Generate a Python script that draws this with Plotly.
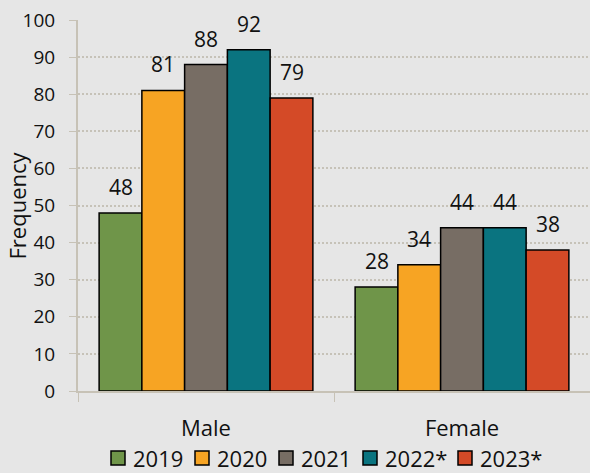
import plotly.graph_objects as go

categories = ["Male", "Female"]
years = ["2019", "2020", "2021", "2022*", "2023*"]
values = {
    "2019": [48, 28],
    "2020": [81, 34],
    "2021": [88, 44],
    "2022*": [92, 44],
    "2023*": [79, 38],
}
colors = ["#6f9549", "#f7a423", "#776d64", "#0a7480", "#d44a27"]

# layout constants (pixels)
L, R, T, B = 78, 0, 20, 82
W, H = 590, 473
pw = W - L - R
ph = H - T - B
BARGAP = 0.165
FONT = "Open Sans"
TXT = "#111111"
axis_col = "#c7c2b6"

fig = go.Figure()
nser = len(years)
bw = (1 - BARGAP) / nser
annotations = []
for j, (yr, c) in enumerate(zip(years, colors)):
    fig.add_trace(go.Bar(
        name=yr, x=categories, y=values[yr],
        marker=dict(color=c, line=dict(color="#000000", width=1.5)),
        showlegend=False,
    ))
    for i, v in enumerate(values[yr]):
        annotations.append(dict(
            x=i + (j - (nser - 1) / 2) * bw, y=v, xref="x", yref="y",
            text=str(v), showarrow=False, xanchor="center", yanchor="bottom",
            yshift=10, font=dict(size=21, color=TXT, family=FONT)))

# y-axis title
annotations.append(dict(text="Frequency", xref="paper", yref="paper",
                        x=-(L - 16) / pw, y=0.5, textangle=-90, showarrow=False,
                        xanchor="center", yanchor="middle",
                        font=dict(size=22, color=TXT, family=FONT)))

# custom legend (squares + labels) below the plot
shapes = []
leg_y = 458
x0 = 111
sq = 14
for yr, c in zip(years, colors):
    tw = sum(11 if ch == "*" else 12.25 for ch in yr)
    ycen = -(leg_y - (T + ph)) / ph
    half = (sq / 2) / ph
    shapes.append(dict(type="rect", xref="paper", yref="paper",
                       x0=(x0 - L) / pw, x1=(x0 + sq - L) / pw,
                       y0=ycen - half, y1=ycen + half,
                       fillcolor=c, line=dict(color="#000000", width=1.5)))
    annotations.append(dict(text=yr, xref="paper", yref="paper",
                            x=(x0 + 20 - L) / pw, y=ycen, showarrow=False,
                            xanchor="left", yanchor="middle",
                            font=dict(size=22, color=TXT, family=FONT)))
    x0 += 21 + tw + 14

fig.update_layout(
    width=W, height=H,
    margin=dict(l=L, r=R, t=T, b=B, autoexpand=False),
    paper_bgcolor="#e6e6e6", plot_bgcolor="#e6e6e6",
    font=dict(family=FONT, color=TXT, size=19),
    barmode="group", bargap=BARGAP, bargroupgap=0,
    showlegend=False,
    xaxis=dict(showline=True, linecolor=axis_col, linewidth=1.5,
               ticks="outside", tickson="boundaries", ticklen=9, tickcolor=axis_col,
               tickwidth=1, tickfont=dict(size=22), ticklabelstandoff=17,
               automargin=False),
    yaxis=dict(range=[0, 100], dtick=10, showline=True, linecolor=axis_col, linewidth=2,
               ticks="outside", ticklen=7, tickcolor=axis_col,
               showgrid=True, gridcolor="#c6c2b8", griddash="2px,2px", gridwidth=1.5,
               zeroline=False, tickfont=dict(size=19), ticklabelstandoff=10,
               automargin=False),
    annotations=annotations,
    shapes=shapes,
)
fig.write_html("out.html", config={"displayModeBar": False},
               post_script="document.body.style.margin='0';document.body.style.overflow='hidden';document.body.style.background='#e6e6e6';")
